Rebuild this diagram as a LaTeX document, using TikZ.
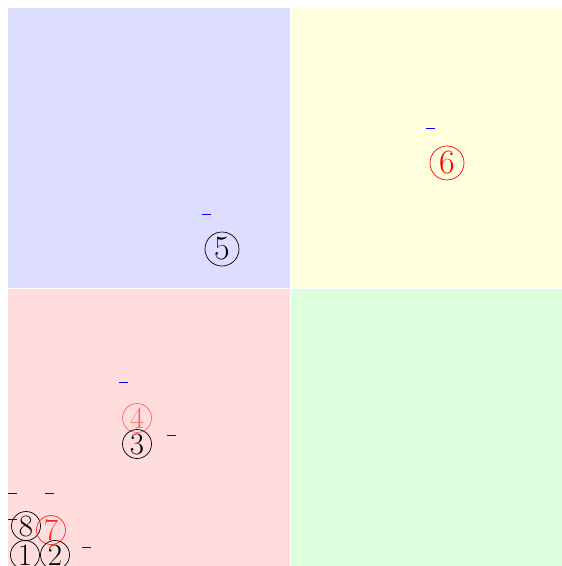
\documentclass[tikz,border=0pt]{standalone}
\usepackage{fix-cm}
\begin{document}
\begin{tikzpicture}[x=1pt,y=-1pt,
  quad/.style={draw=none},
  num/.style={circle,draw,line width=0.7pt,inner sep=0pt,minimum size=29pt,font=\fontsize{31}{31}\selectfont},
  bignum/.style={num,minimum size=34pt,font=\fontsize{34}{34}\selectfont},
  tick/.style={draw=blue,line width=0.9pt}]
\useasboundingbox (0,0) rectangle (562,566);
\fill[quad,fill={rgb,255:red,221;green,221;blue,255}] (8,8) rectangle (289.5,287.5);
\fill[quad,fill={rgb,255:red,255;green,255;blue,221}] (290.5,8) rectangle (562,287.5);
\fill[quad,fill={rgb,255:red,255;green,221;blue,221}] (8,288.5) rectangle (289.5,566);
\fill[quad,fill={rgb,255:red,221;green,255;blue,221}] (290.5,288.5) rectangle (562,566);
\node[bignum] (n5) at (222,249) {5};
\node[bignum,draw=red,text=red] (n6) at (447,163) {6};
\node[num,draw=red!60,text=red!60] (n4) at (137,418) {4};
\node[num] (n3) at (137,444) {3};
\node[num] (n8) at (26,526) {8};
\node[num,draw=red!85,text=red!85] (n7) at (51,530) {7};
\node[num] (n1) at (25,555) {1};
\node[num] (n2) at (55,555) {2};
\coordinate (t1) at (8,493);
\coordinate (t2) at (45,493);
\coordinate (t3) at (8,519);
\coordinate (t4) at (82,547);
\coordinate (t5) at (119,382);
\coordinate (t6) at (167,435);
\coordinate (t7) at (202,214);
\coordinate (t8) at (426,128);
\foreach \t in {t1,t2,t3,t4,t5,t6,t7,t8} \draw[tick] (\t) -- ++(9,0);
\end{tikzpicture}
\end{document}
